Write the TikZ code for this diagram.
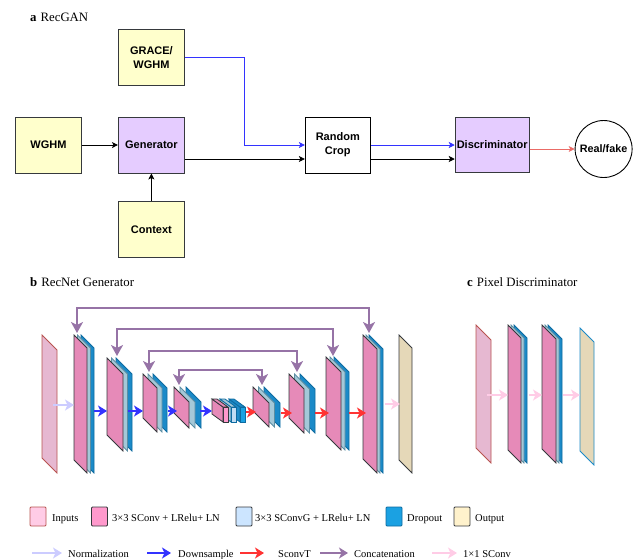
\documentclass[tikz,border=0pt]{standalone}
\usepackage{fontspec}
\setmainfont{Liberation Serif}
\newfontfamily\boxfont{Liberation Sans}
\usetikzlibrary{arrows.meta,positioning,calc}
\definecolor{dataylw}{HTML}{FFFFCC}
\definecolor{netpurple}{HTML}{E5CCFF}
\definecolor{boxedge}{HTML}{36393D}
\definecolor{inface}{HTML}{E6B8D1}
\definecolor{inedge}{HTML}{B85450}
\definecolor{convpink}{HTML}{E68AB8}
\definecolor{convlegend}{HTML}{FF99CC}
\definecolor{sgblue}{HTML}{A4C8D8}
\definecolor{sgedge}{HTML}{5C8EA3}
\definecolor{sglegend}{HTML}{CCE5FF}
\definecolor{dropblue}{HTML}{1B8AC8}
\definecolor{dropedge}{HTML}{0E6BA0}
\definecolor{droplegend}{HTML}{1BA1E2}
\definecolor{outface}{HTML}{E5D8B8}
\definecolor{outlegend}{HTML}{FFF2CC}
\definecolor{normcol}{HTML}{CCCCFF}
\definecolor{downcol}{HTML}{3333FF}
\definecolor{upcol}{HTML}{FF3333}
\definecolor{catcol}{HTML}{9673A6}
\definecolor{pconvcol}{HTML}{FFCCE6}
\definecolor{realcol}{HTML}{EA6B66}
\tikzset{
	databox/.style={draw=boxedge,fill=dataylw,line width=0.9pt,minimum width=66pt,minimum height=56pt,
		inner sep=1pt,align=center,font=\boxfont\bfseries\fontsize{11}{14}\selectfont},
	netbox/.style={databox,fill=netpurple},
	cropbox/.style={databox,fill=white,draw=black,minimum width=65pt},
	link/.style={line width=0.8pt,-{Stealth[length=6pt,width=6pt,inset=1.5pt]}},
	flow/.style={line width=2.2pt,-{Stealth[length=9pt,width=11pt,inset=2.5pt]}},
	concat/.style={line width=2pt,draw=catcol,{Stealth[length=11pt,width=12pt,inset=3pt]}-{Stealth[length=11pt,width=12pt,inset=3pt]}},
	legbox/.style={line width=0.9pt,minimum width=16pt,minimum height=19pt,inner sep=0pt,rounded corners=1pt},
	legtext/.style={anchor=base west,inner sep=0pt,font=\fontsize{10.5}{12}\selectfont},
	title/.style={anchor=base west,inner sep=0pt,font=\fontsize{12.8}{15}\selectfont}
}
% x, y top, width, height, fill, edge
\newcommand{\slab}[6]{\filldraw[fill=#5,draw=#6,line width=0.8pt] (#1,#2) -- ++(#3,#3) -- ++(0,#4) -- ++(-#3,-#3) -- cycle;}
% x, y top, width, height, depth
\newcommand{\convblock}[5]{%
	\slab{#1+#5}{#2}{#3}{#4}{dropblue}{dropedge}
	\slab{#1+#5/2}{#2}{#3}{#4}{sgblue}{sgedge}
	\slab{#1}{#2}{#3}{#4}{convpink}{boxedge}}
% x, y top, side fill, front fill, edge
\newcommand{\cuboid}[5]{%
	\filldraw[fill=#3,draw=#5,line width=0.8pt] (#1,#2) -- ++(11,8) -- ++(0,15) -- ++(-11,-8) -- cycle;
	\filldraw[fill=#3,draw=#5,line width=0.8pt] (#1,#2) -- ++(5,0) -- ++(11,8) -- ++(-5,0) -- cycle;
	\filldraw[fill=#4,draw=#5,line width=0.8pt] (#1+11,#2+8) rectangle ++(5,15);}

\begin{document}
\begin{tikzpicture}[x=1pt,y=-1pt]
	\useasboundingbox (0,0) rectangle (634,558);
	%TITLES
	\node[title] (ttla) at (30,21) {\textbf{a}\hspace{4pt}RecGAN};
	\node[title] (ttlb) at (30,286) {\textbf{b}\hspace{4pt}RecNet Generator};
	\node[title] (ttlc) at (467,286) {\textbf{c}\hspace{4pt}Pixel Discriminator};
	%NODES for RecGAN
	\node[databox] (wghm) at (48.5,145) {WGHM};
	\node[netbox] (gen) [right=36pt of wghm] {Generator};
	\node[databox] (grace) [above=31pt of gen] {GRACE/\\WGHM};
	\node[databox] (ctx) [below=28pt of gen] {Context};
	\node[cropbox] (crop) [right=120pt of gen] {Random\\Crop};
	\node[netbox,minimum width=74pt,minimum height=55pt] (disc) [right=84pt of crop] {Discriminator};
	\node[circle,draw=black,line width=0.9pt,minimum size=57pt,inner sep=0pt,
		font=\boxfont\bfseries\fontsize{10.8}{14}\selectfont] (real) [right=45pt of disc,yshift=-4pt] {Real/fake};
	%PATHS
	\draw[link] (wghm) -- (gen);
	\draw[link] (ctx) -- (gen);
	\draw[link] ([yshift=-14pt]gen.east) -- ([yshift=-14pt]crop.west);
	\draw[link,downcol] (grace.east) -- ++(60,0) |- (crop.west);
	\draw[link,downcol] (crop.east) -- (crop.east -| disc.west);
	\draw[link] ([yshift=-14pt]crop.east) -- ([yshift=-14pt]crop.east -| disc.west);
	\draw[link,realcol] (disc.east |- real.west) -- (real.west);
	%LAYERS for RecNet
	\slab{42}{335}{15}{123}{inface}{inedge}
	\convblock{74}{335}{13}{125}{7}
	\convblock{107}{358}{16}{77}{9}
	\convblock{143}{374}{14}{44}{10}
	\convblock{174}{387}{15}{26}{12}
	\cuboid{229}{399}{dropblue}{droplegend}{dropedge}
	\cuboid{220}{399}{sgblue}{sglegend!70!sgblue}{dropedge}
	\cuboid{212}{399}{convpink}{convlegend}{boxedge}
	\convblock{253}{387}{16}{24}{11}
	\convblock{289}{374}{15}{44}{11}
	\convblock{326}{357}{15}{78}{8}
	\convblock{363}{335}{14}{124}{6}
	\slab{399}{335}{13}{125}{outface}{boxedge}
	%ARROWS for RecNet
	\draw[flow,normcol] (53,405) -- (74,405);
	\draw[flow,downcol] (94,411) -- (107,411);
	\draw[flow,downcol] (128,411) -- (143,411);
	\draw[flow,downcol] (168,411) -- (177,411);
	\draw[flow,downcol] (200,411) -- (212,411);
	\draw[flow,upcol] (246,412) -- (256,412);
	\draw[flow,upcol] (281,413) -- (292,413);
	\draw[flow,upcol] (315,413) -- (329,413);
	\draw[flow,upcol] (349,413) -- (366,413);
	\draw[flow,pconvcol] (385,404) -- (400,404);
	\draw[concat] (77,333) -- (77,308) -- (369,308) -- (369,333);
	\draw[concat] (117,356) -- (117,329) -- (333,329) -- (333,356);
	\draw[concat] (149,372) -- (149,351) -- (297,351) -- (297,372);
	\draw[concat] (179,385) -- (179,370) -- (262,370) -- (262,385);
	%LAYERS for Pixel Discriminator
	\slab{476}{325}{15}{123}{inface}{inedge}
	\convblock{508}{325}{13}{125}{6}
	\convblock{542}{325}{14}{124}{6}
	\slab{580}{328}{14}{123}{outface}{dropblue}
	\draw[flow,pconvcol] (487,395) -- (508,395);
	\draw[flow,pconvcol] (529,395) -- (542,395);
	\draw[flow,pconvcol] (563,395) -- (580,395);
	%LEGEND
	\node[legbox,draw=inedge,fill=pconvcol] (lgin) at (38,516.5) {};
	\node[legtext] (lgint) at (52,521) {Inputs};
	\node[legbox,draw=boxedge,fill=convlegend] (lgconv) at (99.5,516.5) {};
	\node[legtext] (lgconvt) at (112,521) {3×3 SConv + LRelu+ LN};
	\node[legbox,draw=boxedge,fill=sglegend] (lgsg) at (244,516.5) {};
	\node[legtext] (lgsgt) at (255,521) {3×3 SConvG + LRelu+ LN};
	\node[legbox,draw=dropedge,fill=droplegend] (lgdrop) at (394,516.5) {};
	\node[legtext] (lgdropt) at (407,521) {Dropout};
	\node[legbox,draw=boxedge,fill=outlegend] (lgout) at (462,516.5) {};
	\node[legtext] (lgoutt) at (475,521) {Output};
	\draw[flow,normcol] (32,553) -- (62,553);
	\node[legtext] (lgnorm) at (68,557) {Normalization};
	\draw[flow,downcol] (147,553) -- (171,553);
	\node[legtext] (lgdown) at (178,557) {Downsample};
	\draw[flow,upcol] (240,553) -- (264,553);
	\node[legtext] (lgup) at (278,557) {SconvT};
	\draw[flow,catcol] (320,553) -- (348,553);
	\node[legtext] (lgcat) at (354,557) {Concatenation};
	\draw[flow,pconvcol] (432,553) -- (457,553);
	\node[legtext] (lgpc) at (463,557) {1×1 SConv};
\end{tikzpicture}
\end{document}
